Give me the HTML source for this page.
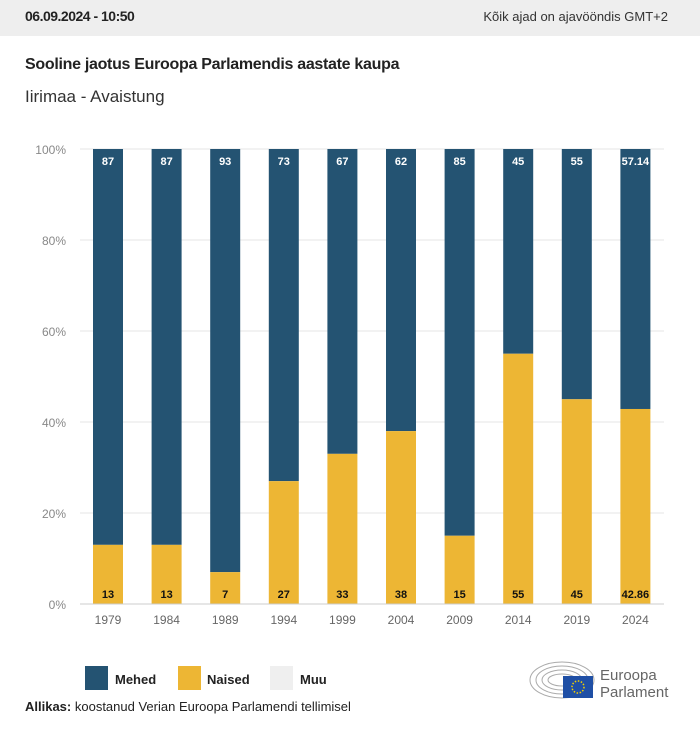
<!DOCTYPE html>
<html><head><meta charset="utf-8"><style>
body{margin:0;width:700px;height:731px;background:#fff;font-family:"Liberation Sans",sans-serif;position:relative;overflow:hidden}
.hdr{position:absolute;left:0;top:0;width:700px;height:36px;background:#eeeeee}
.a{position:absolute;white-space:nowrap}
</style></head><body>
<div class="hdr"></div>
<div class="a" style="left:25px;top:8px;font-size:14px;font-weight:bold;color:#222;letter-spacing:-0.5px">06.09.2024 - 10:50</div>
<div class="a" style="right:32px;top:9px;font-size:13px;color:#333">Kõik ajad on ajavööndis GMT+2</div>
<div class="a" style="left:25px;top:56px;font-size:16px;font-weight:bold;color:#222;letter-spacing:-0.3px">Sooline jaotus Euroopa Parlamendis aastate kaupa</div>
<div class="a" style="left:25px;top:87px;font-size:17px;color:#333">Iirimaa - Avaistung</div>
<svg class="a" style="left:0;top:0" width="700" height="731">
<g font-family="Liberation Sans" font-size="12" fill="#888" text-anchor="end">
<text x="66" y="154">100%</text><text x="66" y="245">80%</text><text x="66" y="336">60%</text><text x="66" y="427">40%</text><text x="66" y="518">20%</text><text x="66" y="609">0%</text>
</g>
<g stroke="#e6e6e6"><line x1="80" x2="664" y1="149" y2="149"/><line x1="80" x2="664" y1="240" y2="240"/><line x1="80" x2="664" y1="331" y2="331"/><line x1="80" x2="664" y1="422" y2="422"/><line x1="80" x2="664" y1="513" y2="513"/></g>
<g id="bars"></g>
<line x1="80" x2="664" y1="604" y2="604" stroke="#ccc"/>
<rect x="85" y="666" width="23" height="24" fill="#245372"/><text x="115" y="684" font-size="13" font-weight="bold" fill="#222">Mehed</text>
<rect x="178" y="666" width="23" height="24" fill="#edb634"/><text x="207" y="684" font-size="13" font-weight="bold" fill="#222">Naised</text>
<rect x="270" y="666" width="23" height="24" fill="#efefef"/><text x="300" y="684" font-size="13" font-weight="bold" fill="#222">Muu</text>
<text x="25" y="711" font-size="13" fill="#222"><tspan font-weight="bold">Allikas:</tspan> koostanud Verian Euroopa Parlamendi tellimisel</text>
<g fill="none" stroke="#aaa" stroke-width="1"><ellipse cx="562" cy="680" rx="32" ry="18"/><ellipse cx="562" cy="680" rx="26" ry="14"/><ellipse cx="562" cy="680" rx="20" ry="10"/><ellipse cx="562" cy="680" rx="14" ry="6"/></g>
<rect x="563" y="676" width="30" height="22" fill="#1f4fa5"/>
<circle cx="578" cy="687" r="6" fill="none" stroke="#f3d000" stroke-width="1.5" stroke-dasharray="1.5 1.6"/>
<text x="600" y="680" font-size="15" fill="#666">Euroopa</text><text x="600" y="697" font-size="15" fill="#666">Parlament</text>
</svg>
<script>
var m=[87,87,93,73,67,62,85,45,55,57.14],y=[1979,1984,1989,1994,1999,2004,2009,2014,2019,2024],s="";
for(var i=0;i<10;i++){var cx=108+i*58.6,x=cx-15,hw=4.55*(100-m[i]),top=149;
s+='<rect x="'+x+'" y="149" width="30" height="'+(604-149-hw)+'" fill="#245372"/>';
s+='<rect x="'+x+'" y="'+(604-hw)+'" width="30" height="'+hw+'" fill="#edb634"/>';
s+='<text x="'+cx+'" y="165" font-size="11" font-weight="bold" fill="#fff" text-anchor="middle">'+m[i]+'</text>';
var w=i==9?"42.86":String(100-m[i]);
s+='<text x="'+cx+'" y="598" font-size="11" font-weight="bold" fill="#111" text-anchor="middle">'+w+'</text>';
s+='<text x="'+cx+'" y="624" font-size="12" fill="#666" text-anchor="middle">'+y[i]+'</text>';}
document.getElementById("bars").innerHTML=s;
</script>
</body></html>
